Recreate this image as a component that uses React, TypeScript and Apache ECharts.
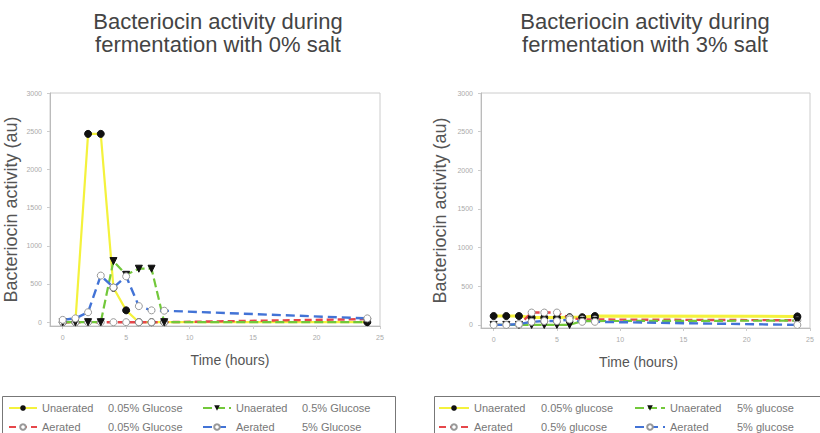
import React, { useEffect, useRef } from "react";
import * as echarts from "echarts";

const hours = [0, 1, 2, 3, 4, 5, 6, 7, 8, 24];

// Left chart: 0% salt
const leftUnaerated005 = [0, 0, 2465, 2465, 450, 155, 0, 0, 0, 0];
const leftUnaerated05 = [0, 0, 0, 0, 800, 620, 700, 700, 0, 0];
const leftAerated005 = [0, 0, 0, 0, 0, 0, 0, 0, 0, 40];
const leftAerated5 = [30, 50, 130, 610, 455, 600, 210, 155, 150, 50];

// Right chart: 3% salt
const rightUnaerated005 = [115, 115, 115, 95, 95, 95, 100, 100, 115, 110];
const rightUnaerated5 = [0, 0, 0, 0, 0, 0, 0, 50, 50, 55];
const rightAerated05 = [0, 0, 0, 160, 160, 160, 90, 70, 70, 60];
const rightAerated5 = [0, 0, 10, 40, 50, 50, 70, 40, 40, 0];

const xTicks = [0, 5, 10, 15, 20, 25];
const yTicks = [0, 500, 1000, 1500, 2000, 2500, 3000];

const leftNames = ["Unaerated 0.05% Glucose", "Unaerated 0.5% Glucose", "Aerated 0.05% Glucose", "Aerated 5% Glucose"];
const rightNames = ["Unaerated 0.05% glucose", "Unaerated 5% glucose", "Aerated 0.5% glucose", "Aerated 5% glucose"];

const titles = ["Bacteriocin activity during\nfermentation with 0% salt", "Bacteriocin activity during\nfermentation with 3% salt"];

const FONT = "'Liberation Sans', Arial, sans-serif";
const YELLOW = "#f4f23c";
const GREEN = "#72c83a";
const RED = "#e6474a";
const BLUE = "#4273d6";

const pairs = (ys: number[]) => hours.map((h, i) => [h, ys[i]]);

export default function App() {
  const ref = useRef<HTMLDivElement>(null);
  useEffect(() => {
    if (!ref.current) return;
    const chart = echarts.init(ref.current, undefined, { renderer: "svg" });

    const mkSeries = (idx: number, names: string[], data: number[][]) => {
      const [u1, u2, a1, a2] = data;
      return [
        {
          name: names[0], type: "line", xAxisIndex: idx, yAxisIndex: idx, data: pairs(u1),
          symbol: "circle", symbolSize: 7,
          lineStyle: { color: YELLOW, width: idx === 1 ? 3 : 2.2 },
          itemStyle: { color: "#111", borderColor: "#111" },
        },
        {
          name: names[2], type: "line", xAxisIndex: idx, yAxisIndex: idx, data: pairs(a1),
          symbol: "circle", symbolSize: 7,
          lineStyle: { color: RED, width: 2.4, type: [7, 4] },
          itemStyle: { color: "#fff", borderColor: "#999", borderWidth: 1 },
        },
        {
          name: names[1], type: "line", xAxisIndex: idx, yAxisIndex: idx, data: pairs(u2),
          symbol: "triangle", symbolRotate: 180, symbolSize: 7,
          lineStyle: { color: GREEN, width: 2.2, type: [9, 4] },
          itemStyle: { color: "#111", borderColor: "#111" },
        },
        {
          name: names[3], type: "line", xAxisIndex: idx, yAxisIndex: idx, data: pairs(a2),
          symbol: "circle", symbolSize: 7,
          lineStyle: { color: BLUE, width: 2.4, type: [9, 5] },
          itemStyle: { color: "#fff", borderColor: "#999", borderWidth: 1 },
        },
      ];
    };

    const mkX = (idx: number, padding: number[]) => ({
      type: "value", gridIndex: idx, min: -1, max: 25,
      name: "Time (hours)", nameLocation: "middle", nameGap: 27,
      nameTextStyle: { fontSize: 14, color: "#555", fontFamily: FONT, padding },
      axisLine: { onZero: false, lineStyle: { color: "#bbb" } },
      axisTick: { show: true, customValues: xTicks, length: 3, lineStyle: { color: "#ccc" } },
      axisLabel: { customValues: xTicks, fontSize: 7, color: "#aaa", fontFamily: FONT, margin: 8 },
      splitLine: { show: false },
    });
    const mkY = (idx: number, min: number, nameGap: number) => ({
      type: "value", gridIndex: idx, min, max: 3000,
      name: "Bacteriocin activity (au)", nameLocation: "middle", nameGap,
      nameTextStyle: { fontSize: 18, color: "#555", fontFamily: FONT },
      axisLine: { show: true, onZero: false, lineStyle: { color: "#bbb" } },
      axisTick: { show: true, customValues: yTicks, length: 3, lineStyle: { color: "#ccc" } },
      axisLabel: { customValues: yTicks, fontSize: 7, color: "#aaa", fontFamily: FONT, margin: 8, formatter: (v: number) => String(v) },
      splitLine: { show: false },
    });

    const richFor = (aw: number) => ({
      a: { width: aw, fontSize: 11, color: "#777", fontFamily: FONT, lineHeight: 14 },
      b: { fontSize: 11, color: "#777", fontFamily: FONT, lineHeight: 14 },
    });
    const fmt = (name: string) => {
      const i = name.indexOf(" ");
      return `{a|${name.slice(0, i)}}{b|${name.slice(i + 1)}}`;
    };

    chart.setOption({
      animation: false,
      backgroundColor: "#fff",
      title: titles.map((t, i) => ({
        text: t, left: i === 0 ? 213 : 640, top: 5, textAlign: "center",
        textStyle: { fontSize: 22, fontWeight: "normal", color: "#444", lineHeight: 23, fontFamily: FONT },
      })),
      grid: [
        { left: 50, top: 93, width: 330, height: 233, show: true, borderColor: "#ccc", borderWidth: 1, containLabel: false },
        { left: 481, top: 93, width: 329, height: 235, show: true, borderColor: "#ccc", borderWidth: 1, containLabel: false },
      ],
      xAxis: [mkX(0, [0, 0, 0, 30]), mkX(1, [0, 14, 0, 0])],
      yAxis: [mkY(0, -50, 30), mkY(1, -40, 32)],
      legend: [
        {
          data: [leftNames[0], leftNames[1], leftNames[2], leftNames[3]],
          left: 8, top: 401, width: 390, padding: 0, itemGap: 5, itemWidth: 28, itemHeight: 7,
          formatter: fmt, textStyle: { width: 155, lineHeight: 14, rich: richFor(66) },
        },
        {
          data: [rightNames[0], rightNames[1], rightNames[2], rightNames[3]],
          left: 438, top: 401, width: 420, padding: 0, itemGap: 5, itemWidth: 30, itemHeight: 7,
          formatter: fmt, textStyle: { width: 155, lineHeight: 14, rich: richFor(67) },
        },
      ],
      graphic: [
        { type: "rect", left: 0, top: 394, shape: { width: 393, height: 60 }, style: { fill: "none", stroke: "#777", lineWidth: 1 }, silent: true },
        { type: "rect", left: 432, top: 394, shape: { width: 400, height: 60 }, style: { fill: "none", stroke: "#777", lineWidth: 1 }, silent: true },
      ],
      series: [
        ...mkSeries(0, leftNames, [leftUnaerated005, leftUnaerated05, leftAerated005, leftAerated5]),
        ...mkSeries(1, rightNames, [rightUnaerated005, rightUnaerated5, rightAerated05, rightAerated5]),
      ],
    });
    return () => chart.dispose();
  }, []);
  return <div ref={ref} style={{ position: "fixed", left: 0, top: 0, width: 820, height: 433 }} />;
}
